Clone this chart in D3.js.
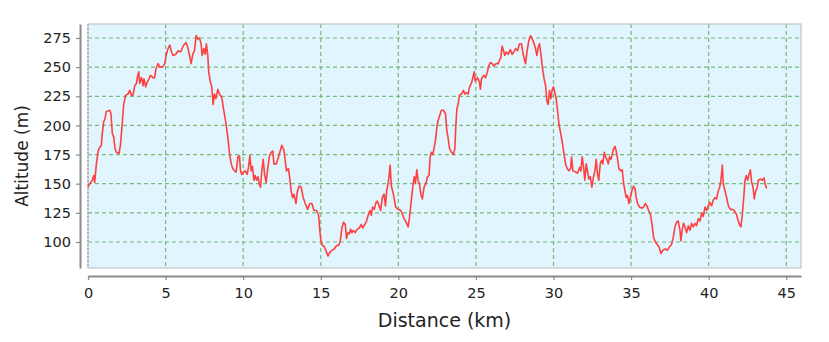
<!DOCTYPE html>
<html>
<head>
<meta charset="utf-8">
<title>Altitude profile</title>
<script src="https://cdn.jsdelivr.net/npm/d3@7"></script>
<style>
  body { margin: 0; background: #fff; }
  text { font-family: "DejaVu Sans", sans-serif; }
</style>
</head>
<body>
<script>
// profile: distance (km) and altitude (m)
var distKm = [
  0, 0.11, 0.28, 0.37, 0.43, 0.54, 0.65, 0.75, 0.86, 0.92, 1.01, 1.10, 1.18, 1.40, 1.48, 1.57, 1.66, 1.74, 1.83, 2.0,
  2.09, 2.22, 2.30, 2.43, 2.58, 2.69, 2.80, 2.90, 3.01, 3.12, 3.18, 3.27, 3.33, 3.44, 3.51, 3.55, 3.61, 3.72, 3.81, 3.94,
  4.02, 4.19, 4.30, 4.37, 4.45, 4.52, 4.62, 4.80, 4.95, 5.05, 5.16, 5.27, 5.38, 5.48, 5.66, 5.81, 5.96,
  6.0, 6.17, 6.32, 6.43, 6.54, 6.65, 6.75, 6.86, 6.97, 7.08, 7.18, 7.29, 7.35, 7.46, 7.55, 7.63, 7.72, 7.78, 7.89, 7.98,
  8.06, 8.15, 8.24, 8.37, 8.47, 8.62, 8.75, 8.90, 9.01, 9.12, 9.23, 9.33, 9.44, 9.55, 9.66, 9.76, 9.83, 9.91, 10.04, 10.13,
  10.26, 10.34, 10.43, 10.52, 10.60, 10.69, 10.77, 10.86, 10.95, 11.03, 11.12, 11.20, 11.29, 11.38, 11.48, 11.59, 11.70, 11.81, 11.91, 11.98,
  12.13, 12.28,
  12.49, 12.62, 12.71, 12.79, 12.92, 13.01, 13.09, 13.18, 13.27, 13.40, 13.50, 13.61, 13.74, 13.87, 14.00, 14.15, 14.30, 14.43, 14.56, 14.73,
  14.86, 14.94, 15.01, 15.12, 15.22, 15.33, 15.46, 15.59, 15.72, 15.87, 16.02, 16.15, 16.26, 16.36, 16.47, 16.58, 16.66, 16.75, 16.84, 16.92,
  17.01, 17.09, 17.22, 17.35, 17.48, 17.61, 17.70, 17.83, 17.95, 18.08, 18.17, 18.26, 18.34, 18.45, 18.56,
  18.65, 18.76, 18.86, 18.97, 19.08, 19.17, 19.25, 19.34, 19.40, 19.47, 19.55, 19.68, 19.83, 19.98, 20.16, 20.26, 20.37, 20.50, 20.63, 20.71,
  20.80, 20.91, 21.02, 21.10, 21.19, 21.27, 21.36, 21.45, 21.55, 21.66, 21.77, 21.88, 21.98, 22.05, 22.13, 22.22, 22.31, 22.39, 22.48, 22.56,
  22.65, 22.78, 22.91, 23.04, 23.12, 23.21, 23.30, 23.42, 23.55, 23.64, 23.70, 23.77, 23.85, 23.94, 24.07, 24.20, 24.28, 24.41, 24.50, 24.59,
  24.71, 24.80, 24.89, 24.95,
  25.10, 25.23, 25.29, 25.36, 25.49, 25.62, 25.72, 25.83, 25.94, 26.05, 26.15, 26.30, 26.43, 26.52, 26.60, 26.69, 26.78, 26.86, 26.95, 27.08,
  27.21, 27.34, 27.44, 27.55, 27.68, 27.81, 27.94, 28.02, 28.13, 28.20, 28.30, 28.41, 28.52, 28.63, 28.73, 28.84, 28.93, 29.01, 29.10, 29.19,
  29.27, 29.38, 29.49, 29.57, 29.66, 29.74, 29.83, 29.92, 30.00, 30.09, 30.17, 30.26, 30.35, 30.45, 30.56, 30.67, 30.78, 30.88, 30.99, 31.10,
  31.16, 31.25,
  31.42, 31.55, 31.68, 31.76, 31.85, 31.94, 32.02, 32.11, 32.19, 32.28, 32.37, 32.47, 32.58, 32.67, 32.75, 32.84, 32.92, 33.01, 33.10, 33.18,
  33.27, 33.35, 33.44, 33.53, 33.61, 33.70, 33.78, 33.87, 33.96, 34.04, 34.13, 34.21, 34.34, 34.43, 34.52, 34.60, 34.69, 34.77, 34.86, 34.95,
  35.05, 35.16, 35.25, 35.33, 35.42, 35.55, 35.70, 35.81, 35.91, 36.02, 36.13, 36.24, 36.34, 36.45, 36.56, 36.67, 36.80, 36.92, 37.05, 37.20,
  37.35, 37.48,
  37.61, 37.72, 37.83, 37.93, 38.04, 38.15, 38.21, 38.30, 38.38, 38.47, 38.58, 38.69, 38.79, 38.90, 39.01, 39.12, 39.22, 39.33, 39.44, 39.55,
  39.65, 39.76, 39.87, 39.98, 40.08, 40.19, 40.30, 40.41, 40.51, 40.62, 40.71, 40.79, 40.88, 40.94, 41.05, 41.16, 41.27, 41.40, 41.52, 41.65,
  41.78, 41.91, 42.02, 42.08, 42.17, 42.26, 42.34, 42.43, 42.51, 42.60, 42.69, 42.77, 42.86, 42.94, 43.03, 43.12, 43.20, 43.33, 43.46, 43.57,
  43.63, 43.74
];
var altM = [
  147, 150, 153, 157, 151, 167, 178, 181, 183, 193, 203, 206, 212, 213, 210, 193, 190, 180, 177, 176,
  183, 204, 218, 226, 227, 230, 226, 226, 234, 236, 241, 246, 236, 241, 238, 234, 240, 233, 237, 240,
  243, 241, 241, 248, 251, 253, 250, 250, 253, 261, 266, 269, 263, 260, 261, 264, 263,
  264, 269, 271, 267, 260, 253, 261, 264, 277, 274, 275, 270, 260, 266, 261, 270, 260, 246, 237, 233,
  218, 227, 223, 231, 227, 224, 213, 201, 190, 176, 167, 163, 161, 160, 173, 174, 161, 158, 160, 161,
  158, 164, 174, 161, 165, 153, 157, 153, 156, 150, 147, 161, 171, 158, 151, 164, 174, 177, 178, 167,
  167, 173,
  183, 179, 170, 161, 163, 154, 144, 138, 141, 133, 144, 148, 147, 138, 133, 128, 133, 133, 127, 127,
  123, 110, 101, 97, 96, 93, 88, 91, 93, 94, 97, 97, 101, 112, 117, 115, 103, 108, 107, 111,
  108, 110, 108, 111, 112, 115, 112, 115, 118, 124, 127, 123, 130, 128, 134,
  135, 131, 127, 138, 141, 131, 144, 150, 156, 166, 148, 141, 130, 128, 127, 124, 120, 117, 113, 120,
  131, 145, 156, 150, 162, 153, 150, 141, 137, 147, 150, 156, 157, 173, 177, 175, 181, 187, 198, 204,
  208, 213, 213, 210, 196, 189, 180, 177, 175, 180, 198, 214, 218, 226, 227, 230, 227, 228, 227, 233,
  236, 241, 246, 238,
  241, 237, 231, 240, 243, 241, 245, 251, 254, 253, 251, 253, 253, 256, 258, 268, 264, 260, 263, 261,
  265, 261, 263, 266, 264, 270, 270, 263, 256, 253, 264, 273, 277, 274, 271, 266, 260, 267, 270, 261,
  251, 241, 234, 221, 218, 230, 223, 231, 233, 228, 223, 213, 201, 194, 186, 176, 167, 163, 161, 163,
  173, 161,
  160, 159, 164, 161, 173, 164, 153, 167, 161, 154, 156, 147, 156, 161, 171, 158, 153, 167, 170, 167,
  177, 173, 171, 167, 173, 171, 175, 180, 182, 178, 171, 163, 161, 162, 150, 144, 138, 140, 133, 138,
  144, 148, 146, 138, 133, 130, 129, 130, 133, 131, 127, 124, 116, 104, 100, 98, 96, 90, 93, 94,
  93, 96,
  98, 104, 113, 117, 118, 110, 101, 111, 116, 113, 108, 114, 110, 116, 113, 116, 114, 120, 118, 125,
  122, 130, 127, 131, 134, 131, 136, 138, 137, 144, 147, 153, 166, 150, 144, 138, 131, 128, 128, 127,
  124, 118, 114, 113, 124, 138, 153, 157, 153, 158, 162, 151, 147, 137, 144, 146, 153, 154, 153, 155,
  150, 146
];
var xTicks = [0, 5, 10, 15, 20, 25, 30, 35, 40, 45];
var yTicks = [100, 125, 150, 175, 200, 225, 250, 275];

var W = 829, H = 342;
var plot = { left: 88, right: 801, top: 24, bottom: 268 };

var svg = d3.select("body").append("svg")
    .attr("width", W)
    .attr("height", H);

var x = d3.scaleLinear().domain([0, 45.95]).range([plot.left, plot.right]);
var y = d3.scaleLinear().domain([77.7, 287]).range([plot.bottom, plot.top]);

// plot background
svg.append("rect")
    .attr("x", plot.left).attr("y", plot.top)
    .attr("width", plot.right - plot.left)
    .attr("height", plot.bottom - plot.top)
    .attr("fill", "#e0f5fd");

// dashed green grid
svg.append("g").selectAll("line")
    .data(yTicks)
    .enter().append("line")
    .attr("x1", plot.left).attr("x2", plot.right)
    .attr("y1", function (d) { return y(d); })
    .attr("y2", function (d) { return y(d); })
    .attr("stroke", "#79b879")
    .attr("stroke-width", 1.2)
    .attr("stroke-dasharray", "4,3");

svg.append("g").selectAll("line")
    .data(xTicks.filter(function (d) { return d > 0; }))
    .enter().append("line")
    .attr("y1", plot.top).attr("y2", plot.bottom)
    .attr("x1", function (d) { return x(d); })
    .attr("x2", function (d) { return x(d); })
    .attr("stroke", "#79b879")
    .attr("stroke-width", 1.2)
    .attr("stroke-dasharray", "4,3");

// zero line along the left edge
svg.append("line")
    .attr("x1", x(0)).attr("x2", x(0))
    .attr("y1", plot.top).attr("y2", plot.bottom)
    .attr("stroke", "#5c6f9c")
    .attr("stroke-width", 1.2)
    .attr("stroke-dasharray", "2,2");

// plot outline
svg.append("rect")
    .attr("x", plot.left).attr("y", plot.top)
    .attr("width", plot.right - plot.left)
    .attr("height", plot.bottom - plot.top)
    .attr("fill", "none")
    .attr("stroke", "#c4c4c4")
    .attr("stroke-width", 1.2);

// altitude line
var pts = distKm.map(function (d, i) { return [d, altM[i]]; });
var line = d3.line()
    .x(function (d) { return x(d[0]); })
    .y(function (d) { return y(d[1]); });

svg.append("path")
    .datum(pts)
    .attr("d", line)
    .attr("fill", "none")
    .attr("stroke", "#ff4040")
    .attr("stroke-width", 1.6)
    .attr("stroke-linejoin", "round");

// axes, set a little apart from the plot
var xAxis = svg.append("g")
    .attr("transform", "translate(0,276)")
    .call(d3.axisBottom(x).tickValues(xTicks).tickSize(4).tickSizeOuter(0).tickPadding(8));

var yAxis = svg.append("g")
    .attr("transform", "translate(80,0)")
    .call(d3.axisLeft(y).tickValues(yTicks).tickSize(4).tickSizeOuter(0).tickPadding(5));

[xAxis, yAxis].forEach(function (g) {
    g.select(".domain").attr("stroke", "#8a8a8a").attr("stroke-width", 2);
    g.selectAll(".tick line").attr("stroke", "#8a8a8a").attr("stroke-width", 1.2);
    g.selectAll(".tick text")
        .attr("fill", "#222")
        .style("font-family", "DejaVu Sans")
        .style("font-size", "14.5px");
});

// axis titles
svg.append("text")
    .attr("x", (plot.left + plot.right) / 2)
    .attr("y", 327)
    .attr("text-anchor", "middle")
    .attr("fill", "#222")
    .style("font-size", "19px")
    .text("Distance (km)");

svg.append("text")
    .attr("transform", "translate(28,156) rotate(-90)")
    .attr("text-anchor", "middle")
    .attr("fill", "#222")
    .style("font-size", "17px")
    .text("Altitude (m)");
</script>
</body>
</html>
